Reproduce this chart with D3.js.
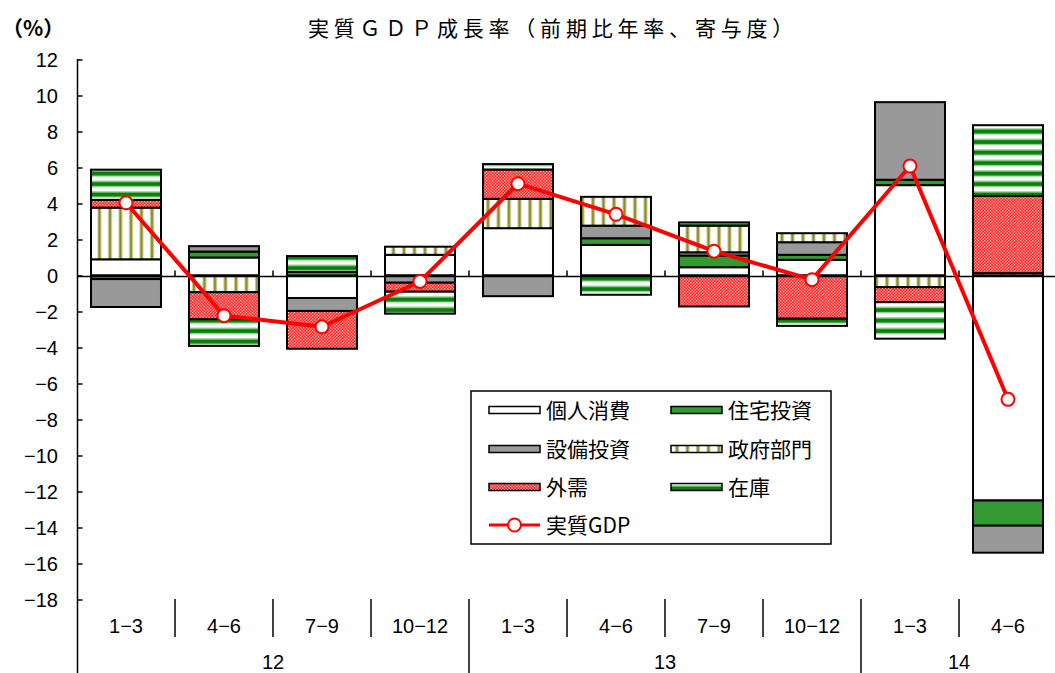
<!DOCTYPE html>
<html><head><meta charset="utf-8">
<script src="https://cdn.jsdelivr.net/npm/d3@7"></script>
<style>
body{margin:0;background:#fff;}
svg{display:block;font-family:"Liberation Sans","Noto Sans CJK JP",sans-serif;}
</style></head>
<body>
<svg id="chart" width="1055" height="673"></svg>
<script>
// ---- data ----
const categories = ["1-3","4-6","7-9","10-12","1-3","4-6","7-9","10-12","1-3","4-6"];
const years = ["12","13","14"];
const yearSpans = [[0,4],[4,8],[8,10]];
const seriesNames = ["個人消費","住宅投資","設備投資","政府部門","外需","在庫"];
const kojin   = [0.90, 1.00, -1.25, 1.15, 2.63, 1.70, 0.46, 0.87, 5.02, -12.50];
const jutaku  = [-0.20, 0.33, 0.20, 0.00, 0.00, 0.37, 0.65, 0.28, 0.30, -1.40];
const setsubi = [-1.55, 0.30, -0.72, -0.40, -1.15, 0.70, 0.18, 0.70, 4.31, -1.50];
const seifu   = [2.87, -0.93, 0.00, 0.45, 1.63, 1.60, 1.48, 0.50, -0.65, 0.13];
const gaiju   = [0.43, -1.50, -2.10, -0.50, 1.63, 0.00, -1.72, -2.40, -0.83, 4.29];
const zaiko   = [1.68, -1.48, 0.88, -1.22, 0.30, -1.07, 0.18, -0.40, -2.03, 3.93];
const gdp     = [4.04, -2.23, -2.85, -0.33, 5.10, 3.40, 1.35, -0.23, 6.08, -6.88];
const yTicks = d3.range(-18, 13, 2);

const seriesValues = [kojin, jutaku, setsubi, seifu, gaiju, zaiko];
const rows = categories.map((c,i)=>{
  const o = {i};
  seriesNames.forEach((n,k)=>o[n]=seriesValues[k][i]);
  return o;
});

const svg = d3.select("#chart");
const defs = svg.append("defs");

// patterns
const pg = defs.append("pattern").attr("id","pSeifu").attr("patternUnits","userSpaceOnUse")
  .attr("width",10.5).attr("height",10);
pg.append("rect").attr("width",10.5).attr("height",10).attr("fill","#fff");
pg.append("rect").attr("x",3).attr("width",4).attr("height",10).attr("fill","#c8c890");
pg.append("rect").attr("x",4).attr("width",2).attr("height",10).attr("fill","#8a8a20");
const pr = defs.append("pattern").attr("id","pGaiju").attr("patternUnits","userSpaceOnUse")
  .attr("width",3).attr("height",3);
pr.append("rect").attr("width",3).attr("height",3).attr("fill","#ff2020");
pr.append("rect").attr("x",0).attr("y",0).attr("width",1.2).attr("height",1.2).attr("fill","#ffd0d0");
pr.append("rect").attr("x",1.5).attr("y",1.5).attr("width",1.2).attr("height",1.2).attr("fill","#ffe0e0");
const pz = defs.append("pattern").attr("id","pZaiko").attr("patternUnits","userSpaceOnUse")
  .attr("width",10).attr("height",10.5);
pz.append("rect").attr("width",10).attr("height",10.5).attr("fill","#fff");
pz.append("rect").attr("y",2).attr("width",10).attr("height",7).attr("fill","#a8d8a8");
pz.append("rect").attr("y",3.5).attr("width",10).attr("height",4).attr("fill","#0a7f0a");

const fills = {"個人消費":"#ffffff","住宅投資":"#339933","設備投資":"#999999",
  "政府部門":"url(#pSeifu)","外需":"url(#pGaiju)","在庫":"url(#pZaiko)"};

// scales
const x = d3.scaleBand().domain(d3.range(categories.length)).range([77,1057])
  .paddingInner(0.286).paddingOuter(0.143);
const step = x.step();
const y = d3.scaleLinear().domain([-18,12]).range([599.5,59.5]);

// stacks
const stack = d3.stack().keys(seriesNames).offset(d3.stackOffsetDiverging).order(d3.stackOrderNone);
const stacked = stack(rows);

const gBars = svg.append("g");
stacked.forEach(s=>{
  gBars.selectAll(null).data(s.filter(d=>Math.abs(d[1]-d[0])>1e-9)).enter().append("rect")
    .attr("x",d=>x(d.data.i))
    .attr("width",x.bandwidth())
    .attr("y",d=>y(Math.max(d[0],d[1])))
    .attr("height",d=>Math.abs(y(d[0])-y(d[1])))
    .attr("fill",fills[s.key])
    .attr("stroke","#000").attr("stroke-width",2);
});

// zero line with ticks
const zeroY = Math.round(y(0))+0.5;
svg.append("line").attr("x1",77).attr("x2",1055).attr("y1",zeroY).attr("y2",zeroY)
  .attr("stroke","#000").attr("stroke-width",1.5);
d3.range(1,categories.length).forEach(k=>{
  const xx = 77 + k*step;
  svg.append("line").attr("x1",xx).attr("x2",xx).attr("y1",zeroY).attr("y2",zeroY-6)
    .attr("stroke","#000").attr("stroke-width",1.5);
});

// y axis
const yAxis = d3.axisRight(y).tickValues(yTicks).tickSize(5).tickFormat("");
const gy = svg.append("g").attr("transform","translate(77.5,0)").call(yAxis);
gy.select(".domain").remove();
gy.selectAll(".tick line").attr("stroke","#000").attr("stroke-width",1.5);
svg.append("line").attr("x1",77.5).attr("x2",77.5).attr("y1",59).attr("y2",673)
  .attr("stroke","#000").attr("stroke-width",1.5);
svg.append("g").selectAll("text").data(yTicks).enter().append("text")
  .attr("x",58).attr("y",d=>y(d)+7).attr("text-anchor","end")
  .attr("font-size",20).attr("fill","#000")
  .text(d=>d<0?"−"+Math.abs(d):String(d));

// category axis area
categories.forEach((c,i)=>{
  svg.append("text").attr("x",x(i)+x.bandwidth()/2).attr("y",633)
    .attr("text-anchor","middle").attr("font-size",20).text(c.replace("-","−"));
});
d3.range(1,categories.length).forEach(k=>{
  const xx = 77 + k*step;
  const isYear = yearSpans.some(s=>s[0]===k);
  svg.append("line").attr("x1",xx).attr("x2",xx).attr("y1",599).attr("y2",isYear?673:637)
    .attr("stroke","#000").attr("stroke-width",1.5);
});
years.forEach((yr,j)=>{
  const s = yearSpans[j];
  const cx = 77 + (s[0]+s[1])/2*step;
  svg.append("text").attr("x",cx).attr("y",669).attr("text-anchor","middle")
    .attr("font-size",20).text(yr);
});

// GDP line
const line = d3.line().x((d,i)=>x(i)+x.bandwidth()/2).y(d=>y(d));
svg.append("path").datum(gdp).attr("d",line).attr("fill","none")
  .attr("stroke","#ff0000").attr("stroke-width",4).attr("stroke-linejoin","round");
svg.append("g").selectAll("circle").data(gdp).enter().append("circle")
  .attr("cx",(d,i)=>x(i)+x.bandwidth()/2).attr("cy",d=>y(d)).attr("r",6.5)
  .attr("fill","#fff").attr("stroke","#ff0000").attr("stroke-width",2);

// title
svg.append("text").attr("x",553).attr("y",36).attr("text-anchor","middle")
  .attr("font-size",21).attr("letter-spacing",4.8).attr("font-family","Noto Sans CJK JP")
  .text("実質ＧＤＰ成長率（前期比年率、寄与度）");
svg.append("text").attr("x",2).attr("y",36).attr("font-size",21).attr("font-weight","bold")
  .attr("font-family","Noto Sans CJK JP").text("（%）");

// legend
const lg = svg.append("g");
lg.append("rect").attr("x",471).attr("y",391).attr("width",360).attr("height",153)
  .attr("fill","#fff").attr("stroke","#000").attr("stroke-width",1.5);
const legendPos = [[489,410],[671,410],[489,449],[671,449],[489,487],[671,487]];
seriesNames.forEach((n,k)=>{
  const [lx,ly] = legendPos[k];
  lg.append("rect").attr("x",lx).attr("y",ly-3.5).attr("width",51).attr("height",7)
    .attr("fill",fills[n]).attr("stroke","#000").attr("stroke-width",1.5);
  lg.append("text").attr("x",lx+57).attr("y",ly+8).attr("font-size",21)
    .attr("font-family","Noto Sans CJK JP").text(n);
});
lg.append("line").attr("x1",489).attr("x2",540).attr("y1",525).attr("y2",525)
  .attr("stroke","#ff0000").attr("stroke-width",3);
lg.append("circle").attr("cx",514.5).attr("cy",525).attr("r",6.5)
  .attr("fill","#fff").attr("stroke","#ff0000").attr("stroke-width",2);
lg.append("text").attr("x",546).attr("y",533).attr("font-size",21)
  .attr("font-family","Noto Sans CJK JP").text("実質GDP");
</script>
</body></html>
